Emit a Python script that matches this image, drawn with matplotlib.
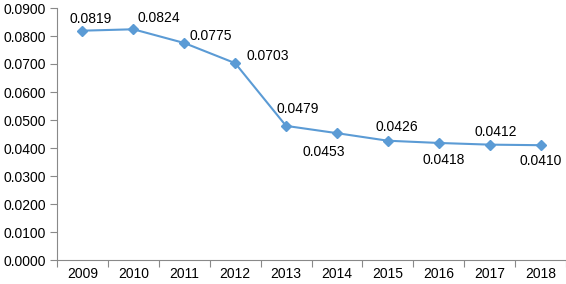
import numpy as np
import matplotlib.pyplot as plt
from matplotlib.ticker import FixedLocator, FormatStrFormatter

plt.rcParams['font.family'] = ['Liberation Sans', 'DejaVu Sans']

years = ['2009', '2010', '2011', '2012', '2013', '2014', '2015', '2016', '2017', '2018']
values = [0.0819, 0.0824, 0.0775, 0.0703, 0.0479, 0.0453, 0.0426, 0.0418, 0.0412, 0.0410]
# label offsets in pixels (dx, dy)
offsets = [(8, 12), (25, 11), (26, 7), (33, 7), (12, 17), (-13, -19), (9, 14), (5, -17), (6, 13), (0, -16)]

blue = '#5B9BD5'
gray = '#898989'

fig = plt.figure(figsize=(5.66, 2.84), dpi=100)
ax = fig.add_axes([57/566, 24/284, 509/566, 252/284])
x = np.arange(len(years))
ax.plot(x, values, color=blue, lw=1.5, marker='D', ms=5.5, mfc=blue, mec=blue)

for xi, v, (dx, dy) in zip(x, values, offsets):
    ax.annotate('%.4f' % v, (xi, v), xytext=(dx, dy), textcoords='offset pixels',
                ha='center', va='center', fontsize=10, color='#000000')

ax.set_xlim(-0.5, len(years) - 0.5)
ax.set_ylim(0, 0.09)
ax.set_yticks(np.arange(0, 0.0901, 0.01))
ax.yaxis.set_major_formatter(FormatStrFormatter('%.4f'))

ax.xaxis.set_major_locator(FixedLocator(np.arange(-0.5, len(years), 1.0)))
ax.xaxis.set_minor_locator(FixedLocator(x))
ax.set_xticklabels([], minor=False)
ax.set_xticklabels(years, minor=True)
ax.tick_params(axis='x', which='major', length=5, color=gray, direction='out')
ax.tick_params(axis='x', which='minor', length=0, pad=5, labelsize=10)
ax.tick_params(axis='y', length=5, color=gray, direction='out', labelsize=10, pad=3)

for s in ['top', 'right']:
    ax.spines[s].set_visible(False)
for s in ['left', 'bottom']:
    ax.spines[s].set_color(gray)

fig.savefig('out.png', dpi=100)
